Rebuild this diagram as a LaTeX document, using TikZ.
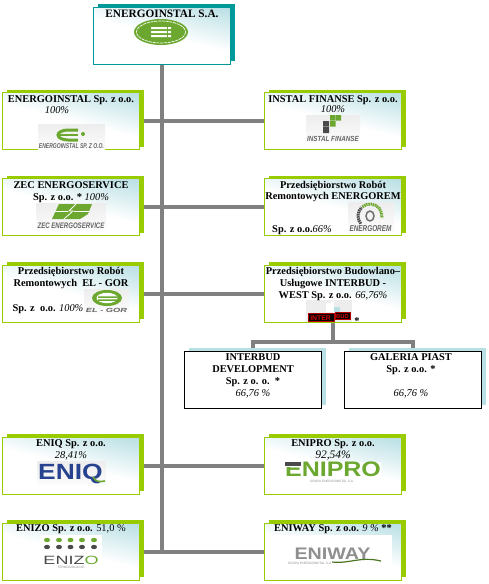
\documentclass[tikz,border=0pt]{standalone}
\usepackage{fontspec}
\setmainfont{Liberation Serif}
\newfontfamily\logofont{Liberation Sans}
\usetikzlibrary{shadows,backgrounds}
\definecolor{limeg}{HTML}{99CC00}
\definecolor{tealdark}{HTML}{009999}
\definecolor{paleteal}{HTML}{B8DFE4}
\definecolor{linegray}{HTML}{808080}
\definecolor{logogreen}{HTML}{6CA82F}
\definecolor{logodark}{HTML}{4A4A4A}
\definecolor{logogray}{HTML}{8F8F8F}
\definecolor{logoback}{HTML}{EDEDED}
\definecolor{eniqblue}{HTML}{27428F}
\pgfdeclareverticalshading{tealfade}{100bp}{color(0bp)=(white); color(50bp)=(white); color(80bp)=(paleteal); color(100bp)=(paleteal)}
\newcommand{\bn}{\fontsize{10.4}{12}\selectfont\bfseries}
\newcommand{\pc}{\fontsize{10.4}{12}\selectfont\mdseries\itshape}
\tikzset{
  x=1pt,y=-1pt,
  basebox/.style={rectangle,inner sep=0pt,minimum width=137pt,minimum height=57pt,line width=1pt},
  greenbox/.style={basebox,draw=limeg,shading=tealfade,shading angle=-14,
    general shadow={shadow xshift=4.5pt,shadow yshift=3pt,fill=limeg}},
  topbox/.style={basebox,draw=tealdark,shading=tealfade,shading angle=-14,
    general shadow={shadow xshift=4.5pt,shadow yshift=3pt,fill=tealdark}},
  plainbox/.style={basebox,draw=black,fill=white,
    general shadow={shadow xshift=4.5pt,shadow yshift=4pt,fill=paleteal}},
  txtlabel/.style={inner sep=0pt,font=\bn,text=black},
  pct/.style={inner sep=0pt,font=\pc,text=black},
  conn/.style={draw=linegray,line width=4pt},
  subconn/.style={draw=linegray,line width=3.5pt},
  logobg/.style={top color=logoback,bottom color=white!85!logoback,draw=none},
  logotext/.style={inner sep=0pt,anchor=base,text=logodark!85,font=\logofont\bfseries\itshape},
  wordmark/.style={inner sep=0pt,anchor=base,font=\logofont\bfseries},
  finetext/.style={inner sep=0pt,anchor=base,text=logogray,font=\logofont\fontsize{3.2}{3.4}\selectfont},
}
\begin{document}
\begin{tikzpicture}
\useasboundingbox (0,0) rectangle (489,584);
% boxes
\node[topbox] (top) at (162,35.5) {};
\node[greenbox] (a1) at (71,121) {};
\node[greenbox] (b1) at (333,121) {};
\node[greenbox] (a2) at (71,207) {};
\node[greenbox] (b2) at (333,207) {};
\node[greenbox] (a3) at (71,293.5) {};
\node[greenbox] (b3) at (333,293.5) {};
\node[plainbox] (d) at (253,380) {};
\node[plainbox] (g) at (413,380) {};
\node[greenbox] (a4) at (71,465.5) {};
\node[greenbox] (b4) at (333,465.5) {};
\node[greenbox] (a5) at (71,551.5) {};
\node[greenbox] (b5) at (333,551.5) {};
\coordinate (bus) at (333,342);
\begin{scope}[on background layer]
\draw[conn] (top.south) -- (top.south |- a5.east);
\draw[conn] (a1.east) -- (b1.west);
\draw[conn] (a2.east) -- (b2.west);
\draw[conn] (a3.east) -- (b3.west);
\draw[conn] (a4.east) -- (b4.west);
\draw[conn] (a5.east) -- (b5.west);
\draw[conn] (b3.south) -- (bus);
\draw[subconn] (bus) -| (d.north);
\draw[subconn] (bus) -| (g.north);
\end{scope}
% top logo
\fill[logogreen] (161,32) ellipse [x radius=27,y radius=13];
\draw[white,line width=.7pt,dash pattern=on 3pt off .8pt] (161,32) ellipse [x radius=24.5,y radius=11];
\fill[white] (151,27) rectangle (171,29.2) (151,31) rectangle (171,33) (151,35) rectangle (171,37);
\fill[logogreen] (167,27) rectangle (168,37);
% E logo
\fill[logobg] (38,124) rectangle (105,149);
\draw[logogreen,line width=3pt] (78,130) -- (68,130) arc (270:90:10 and 5) -- (78,140);
\draw[logogreen,line width=2.4pt] (58,135) -- (78,135);
\fill[logogreen] (83,134) circle (2);
\node[logotext,xscale=.72] (l1) at (71.5,148.5) {\fontsize{7}{7}\selectfont ENERGOINSTAL SP. Z O.O.};
% instal finanse
\fill[logobg] (306,115) rectangle (360,142);
\fill[logogreen] (330,115) rectangle (335.5,120.5) (336,115) rectangle (341,120.5) (330,121) rectangle (335.5,126.5);
\fill[logodark] (323,121) rectangle (329,126.5) (323,127) rectangle (329,133);
\node[logotext,xscale=.85] (l2) at (333,141) {\fontsize{7.4}{8}\selectfont INSTAL FINANSE};
% energorem
\fill[logobg] (348,202) rectangle (394,233);
\draw[logodark!80,line width=1.5pt] (370,216) ellipse [x radius=4,y radius=5];
\draw[logogreen,line width=3pt,dash pattern=on 1.5pt off .7pt] (362.3,206.8) arc (230:370:12);
\draw[logodark,line width=3pt,dash pattern=on 1.5pt off .7pt] (360.8,223.7) arc (140:226:12);
\node[logotext,xscale=.75] (l3) at (370.5,231.5) {\fontsize{8.5}{9}\selectfont ENERGOREM};
% zec
\fill[logobg] (36,203) rectangle (106,230);
\fill[logogreen] (59,204) -- (92,204) -- (88,214) -- (80,219) -- (52,219) -- cycle;
\draw[white,line width=1pt] (55,211) -- (68,211) (74,211) -- (89,211);
\draw[white,line width=.8pt] (76,204) -- (69,211) -- (73,211) -- (64,219);
\node[logotext,xscale=.76] (l4) at (71,228) {\fontsize{8}{8}\selectfont ZEC ENERGOSERVICE};
% el-gor
\fill[logobg] (84,289) rectangle (129,313);
\fill[logogreen] (107,298) ellipse [x radius=15,y radius=8];
\fill[white] (107,298) ellipse [x radius=10.5,y radius=5.2];
\fill[logogreen] (98,296.3) rectangle (117,297.8) (98,299.3) rectangle (117,300.8);
\node[logotext,xscale=1.55] (l5) at (106.5,312) {\fontsize{6}{6}\selectfont EL - GOR};
% interbud
\fill[logoback] (306,300) rectangle (352,322);
\fill[white] (326,303) rectangle (331,312) (331,301) rectangle (334,312);
\fill[paleteal] (334,307) rectangle (340,312);
\draw[red!70!black,fill=black,line width=.6pt] (308,313) rectangle (334,321.5);
\draw[red!70!black,fill=black,line width=.6pt] (335,312) rectangle (350,319.5);
\node[wordmark,text=red!85!black,font=\logofont\fontsize{6.8}{7}\selectfont\bfseries] (l6a) at (320.5,320) {INTER};
\node[wordmark,text=red!85!black,font=\logofont\fontsize{5.8}{6}\selectfont\bfseries] (l6b) at (342.5,318) {BUD};
% eniq
\fill[logobg] (37,461) rectangle (106,485);
\node[wordmark,text=eniqblue,xscale=1.2] (l7) at (70.5,479) {\fontsize{22}{22}\selectfont ENIQ};
\draw[logogreen,line width=1.6pt] (93,477) .. controls (96,482) and (99,482) .. (105,481);
% enizo
\fill[white] (40,535) rectangle (102,570);
\foreach \i in {47,59,70.5,82,94}{
  \fill[logogreen] (\i,540) ellipse [x radius=3,y radius=2.2];
  \fill[logodark] (\i,547) ellipse [x radius=3,y radius=2.2];
}
\node[wordmark,text=logodark,xscale=1.5] (l8) at (71,564) {\fontsize{12}{12}\selectfont\mdseries ENIZ\textcolor{logogreen}{O}};
\node[finetext] (l8b) at (71,568.5) {TERMOIZOLACJE};
% enipro
\fill[white] (285,462) rectangle (381,484);
\node[wordmark,text=logogreen,xscale=1.19] (l9) at (333,476.5) {\fontsize{21}{21}\selectfont ENIPRO};
\fill[white] (284,461) rectangle (303,466.5);
\fill[logodark] (285,462) rectangle (301,465.5);
\node[finetext] (l9b) at (332,482.8) {GRUPA ENERGOINSTAL S.A.};
% eniway
\fill[white] (273,535) rectangle (392,579);
\node[wordmark,text=logogray,xscale=1.18] (l10) at (332.5,559) {\fontsize{16.7}{17}\selectfont ENIWAY};
\draw[logogreen!70!black,line width=1.2pt] (332,562) .. controls (350,564) and (360,556) .. (381,561);
\node[finetext] (l10b) at (310,564) {GRUPA ENERGOINSTAL S.A.};
% texts
\node[txtlabel,font=\fontsize{11.3}{12}\selectfont\bfseries] (t0) at (162,14) {ENERGOINSTAL S.A.};
\node[txtlabel] (t1) at (71,100) {ENERGOINSTAL Sp. z o.o.};
\node[pct] (p1) at (57,110) {100\%};
\node[txtlabel] (t2) at (333,100) {INSTAL FINANSE Sp. z o.o.};
\node[pct] (p2) at (333,109.5) {100\%};
\node[txtlabel] (t3) at (71,185.5) {ZEC ENERGOSERVICE};
\node[txtlabel] (t3b) at (71,198) {Sp. z o.o. * {\pc 100\%}};
\node[txtlabel] (t4) at (333,186) {Przedsiębiorstwo Robót};
\node[txtlabel] (t4b) at (333,197.5) {Remontowych ENERGOREM};
\node[txtlabel] (t4c) at (302,230) {Sp. z o.o.{\pc 66\%}};
\node[txtlabel] (t5) at (71,272) {Przedsiębiorstwo Robót};
\node[txtlabel] (t5b) at (71,284) {Remontowych\ \ EL - GOR};
\node[txtlabel] (t5c) at (48,309) {Sp. z\ \ o.o. {\pc 100\%}};
\node[txtlabel] (t6) at (333,272) {Przedsiębiorstwo Budowlano--};
\node[txtlabel] (t6b) at (333,284) {Usługowe INTERBUD -};
\node[txtlabel] (t6c) at (333,296) {WEST Sp. z o.o. {\pc 66,76\%}};
\node[txtlabel] (t6d) at (357,321) {*};
\node[txtlabel] (t7) at (253,357) {INTERBUD};
\node[txtlabel] (t7b) at (253,369) {DEVELOPMENT};
\node[txtlabel] (t7c) at (253,382) {Sp. z o. o.\ \ *};
\node[pct] (t7d) at (253,394) {66,76 \%};
\node[txtlabel] (t8) at (411,357) {GALERIA PIAST};
\node[txtlabel] (t8b) at (411,370) {Sp. z o.o. *};
\node[pct] (t8c) at (411,394) {66,76 \%};
\node[txtlabel] (t9) at (71,444) {ENIQ Sp. z o.o.};
\node[pct] (t9b) at (71,456) {28,41\%};
\node[txtlabel] (t10) at (333,444) {ENIPRO Sp. z o.o.};
\node[pct,font=\fontsize{11.5}{12}\selectfont\itshape] (t10b) at (333,456) {92,54\%};
\node[txtlabel] (t11) at (71,529.5) {ENIZO Sp. z o.o. {\mdseries 51,0 \%}};
\node[txtlabel] (t12) at (333,529.5) {ENIWAY Sp. z o.o. {\pc 9 \%} **};
\end{tikzpicture}
\end{document}
